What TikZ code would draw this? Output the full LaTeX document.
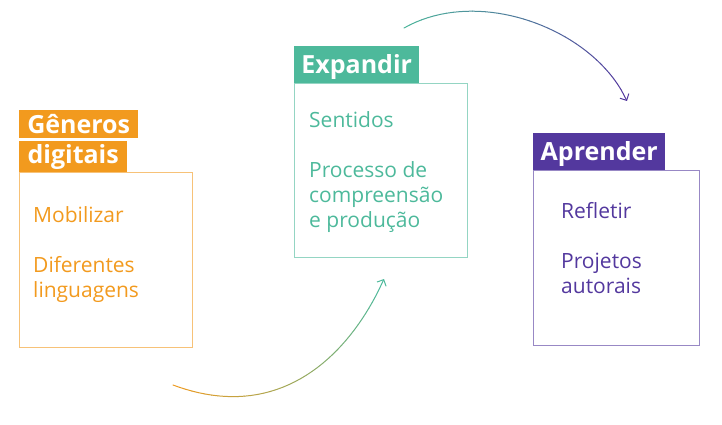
\documentclass[tikz,border=0pt]{standalone}
\usepackage{fontspec}
\setmainfont{Open Sans}
\usetikzlibrary{arrows.meta, positioning, decorations.markings}

\definecolor{genorange}{HTML}{F29A1E}
\definecolor{expteal}{HTML}{4DB99B}
\definecolor{apviolet}{HTML}{53389E}

\begin{document}
\begin{tikzpicture}[x=1pt, y=-1pt,
    band/.style={fill=#1, text=white, anchor=north west, inner xsep=7pt, inner ysep=0pt, text height=19pt, text depth=1pt, font=\bfseries\fontsize{25}{30}\selectfont},
    frame/.style={draw=#1!60, line width=1pt, anchor=north west, inner sep=0pt},
    items/.style={text=#1, anchor=base west, align=left, inner sep=0pt, font=\fontsize{21}{25}\selectfont},
    curve/.style={line width=1pt, line cap=round},
    grad marks/.style={decorate, decoration={markings, mark=between positions 0 and 0.96 step 0.025 with {\coordinate (#1\pgfkeysvalueof{/pgf/decoration/mark info/sequence number});}}}
]
    \useasboundingbox (0,0) rectangle (722,425);

    \node[band=genorange, minimum width=119pt, minimum height=28pt] (gen1) at (19,110) {Gêneros};
    \node[band=genorange, minimum width=108pt, minimum height=31pt, text depth=6pt] (gen2) at (19,141) {digitais};
    \node[frame=genorange, minimum width=173pt, minimum height=175pt] (genbox) at (19,172) {};
    \node[items=genorange] (genlist) at (33,297) {Mobilizar\\[25pt]Diferentes\\linguagens};

    \node[band=expteal, minimum width=125pt, minimum height=37pt, text depth=2pt] (exp) at (294,46) {Expandir};
    \node[frame=expteal, minimum width=173pt, minimum height=174pt] (expbox) at (294,83) {};
    \node[items=expteal] (explist) at (309,227) {Sentidos\\[25pt]Processo de\\compreensão\\e produção};

    \node[band=apviolet, minimum width=132pt, minimum height=37pt, text depth=2pt] (ap) at (533,133) {Aprender};
    \node[frame=apviolet, minimum width=166pt, minimum height=175pt] (apbox) at (533,170) {};
    \node[items=apviolet] (aplist) at (561,293) {Refletir\\[25pt]Projetos\\autorais};

    \coordinate (a1s) at (173,385);
    \coordinate (a1e) at (384,279);
    \path[grad marks=u] (a1s) .. controls (280,425) and (350,355) .. (a1e);
    \foreach \i [evaluate=\i as \j using int(\i+1), evaluate=\i as \p using int(100-100*\i/39)] in {1,...,38}
        \draw[curve, draw=genorange!\p!expteal] (u\i) -- (u\j);
    \draw[curve, draw=expteal, -{Straight Barb[length=5pt, width=10pt]}] (u39) -- (a1e);

    \coordinate (a2s) at (404,28);
    \coordinate (a2e) at (627,101);
    \path[grad marks=v] (a2s) .. controls (480,-15) and (595,30) .. (a2e);
    \foreach \i [evaluate=\i as \j using int(\i+1), evaluate=\i as \p using int(100-100*\i/39)] in {1,...,38}
        \draw[curve, draw=expteal!\p!apviolet] (v\i) -- (v\j);
    \draw[curve, draw=apviolet, -{Straight Barb[length=5pt, width=10pt]}] (v39) -- (a2e);
\end{tikzpicture}
\end{document}
